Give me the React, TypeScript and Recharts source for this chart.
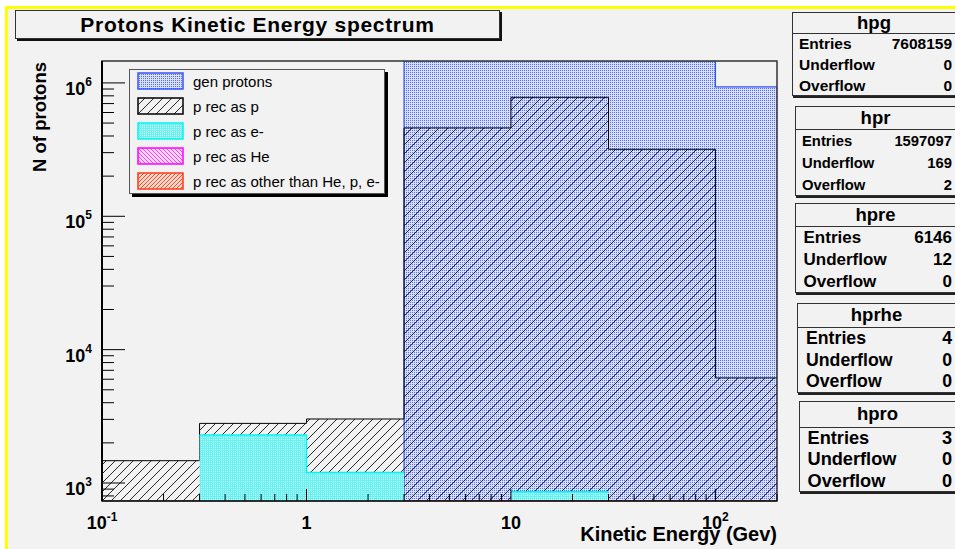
import React from "react";
import { ComposedChart, Area, XAxis, YAxis, ReferenceArea } from "recharts";

// histogram binning (GeV)
const binEdges = [0.1, 0.3, 1, 3, 10, 30, 100, 200];

// bin contents, null = bin not drawn
const genProtons = [0, 0, 0, 2100000, 2400000, 2200000, 933000];
const recAsP = [1470, 2800, 3020, 460000, 780000, 318000, 6140];
const recAsE = [null, 2290, 1200, null, 860, null, null];
const recAsHe = [null, null, null, 1, 2, 1, null];
const recAsOther = [null, null, null, 1, 1, 1, 0];

const seriesKeys = ["gen", "recP", "recE", "recHe", "recOther"];
const seriesNames = ["gen protons", "p rec as p", "p rec as e-", "p rec as He", "p rec as other than He, p, e-"];
const seriesValues = [genProtons, recAsP, recAsE, recAsHe, recAsOther];

// stat boxes
const statNames = ["hpg", "hpr", "hpre", "hprhe", "hpro"];
const statEntries = [7608159, 1597097, 6146, 4, 3];
const statUnderflow = [0, 169, 12, 0, 0];
const statOverflow = [0, 2, 0, 0, 0];

const yMajorTicks = [1e3, 1e4, 1e5, 1e6];
const xMajorTicks = [0.1, 1, 10, 100];
const minorSteps = [2, 3, 4, 5, 6, 7, 8, 9];

const Y_MIN = 733;
const Y_MAX = 1.46e6;
const X_MIN = 0.1;
const X_MAX = 200;

const PLOT_LEFT = 102;
const PLOT_BOTTOM = 501;
const FONT = "'Liberation Sans', Arial, Helvetica, sans-serif";

const seriesStyle = [
  { fill: "url(#fillGen)", stroke: "#3355ff", width: 1.2 },
  { fill: "url(#fillHatch)", stroke: "#000000", width: 1 },
  { fill: "url(#fillCyan)", stroke: "#00f4f4", width: 1.5 },
  { fill: "url(#fillMagenta)", stroke: "#ff00ff", width: 1 },
  { fill: "url(#fillRed)", stroke: "#ff3a1a", width: 1.5 },
];

const yTicks = [800, 900, ...yMajorTicks.slice(0, 3).flatMap((m) => [m, ...minorSteps.map((s) => s * m)]), 1e6];
const xTicks = [...xMajorTicks.slice(0, 3).flatMap((m) => [m, ...minorSteps.map((s) => s * m)]), 100, 200];

// like ROOT, contents outside the frame are drawn at its edge
const clampY = (v: number | null) => (v == null ? null : Math.min(Math.max(v, Y_MIN), Y_MAX));

const rows: any[] = [];
for (let i = 0; i < binEdges.length - 1; i++) {
  const lo: any = { x: binEdges[i] };
  const hi: any = { x: binEdges[i + 1] };
  seriesKeys.forEach((k, s) => {
    lo[k] = clampY(seriesValues[s][i]);
    hi[k] = clampY(seriesValues[s][i]);
  });
  rows.push(lo, hi);
}

const isMajor = (v: number) => Math.abs(Math.log10(v) - Math.round(Math.log10(v))) < 1e-6;

const XTick = (props: any) => {
  const { x, payload } = props;
  const v = payload.value;
  const major = isMajor(v);
  const e = Math.round(Math.log10(v));
  return (
    <g>
      <line x1={x} x2={x} y1={PLOT_BOTTOM} y2={PLOT_BOTTOM - (major ? 12 : 7)} stroke="#000" />
      {major && (
        <text x={x} y={PLOT_BOTTOM + 27.5} textAnchor="middle" fontSize={18} fontWeight="bold" fill="#000" fontFamily={FONT}>
          {e === 0 ? "1" : "10"}
          {e !== 0 && e !== 1 && (
            <tspan dy={-8} fontSize={12}>
              {e}
            </tspan>
          )}
        </text>
      )}
    </g>
  );
};

const YTick = (props: any) => {
  const { y, payload } = props;
  const v = payload.value;
  const major = isMajor(v);
  const e = Math.round(Math.log10(v));
  return (
    <g>
      <line x1={PLOT_LEFT} x2={PLOT_LEFT + (major ? 23 : 12)} y1={y} y2={y} stroke="#000" />
      {major && (
        <text x={PLOT_LEFT - 10} y={y + 12} textAnchor="end" fontSize={18} fontWeight="bold" fill="#000" fontFamily={FONT}>
          10
          <tspan dy={-9} fontSize={12}>
            {e}
          </tspan>
        </text>
      )}
    </g>
  );
};

const XTitle = (props: any) => {
  const vb = props.viewBox || { x: 102, y: 501, width: 675 };
  return (
    <text x={vb.x + vb.width} y={vb.y + 40} textAnchor="end" fontSize={20} fontWeight="bold" fill="#000" fontFamily={FONT}>
      Kinetic Energy (Gev)
    </text>
  );
};

const YTitle = (props: any) => {
  const vb = props.viewBox || { x: 42, y: 61 };
  const bx = vb.x + 4;
  const by = vb.y + 1;
  return (
    <text
      x={bx}
      y={by}
      transform={`rotate(-90 ${bx} ${by})`}
      textAnchor="end"
      fontSize={18.5}
      fontWeight="bold"
      fill="#000"
      fontFamily={FONT}
    >
      N of protons
    </text>
  );
};

const PatternDefs = () => (
  <svg width={0} height={0} style={{ position: "absolute" }}>
    <defs>
      <pattern id="fillGen" width={2} height={2} patternUnits="userSpaceOnUse">
        <rect width={2} height={2} fill="#d8defb" />
        <rect width={1} height={1} fill="#5270f2" />
      </pattern>
      <pattern id="fillHatch" width={9} height={9} patternUnits="userSpaceOnUse">
        <path d="M-1,1 L1,-1 M0,9 L9,0 M8,10 L10,8" stroke="#111" strokeWidth={0.9} />
      </pattern>
      <pattern id="fillCyan" width={2} height={2} patternUnits="userSpaceOnUse">
        <rect width={2} height={2} fill="#64f4f4" />
        <rect x={1} y={1} width={1} height={1} fill="#dcffff" />
      </pattern>
      <pattern id="fillMagenta" width={4} height={4} patternUnits="userSpaceOnUse">
        <rect width={4} height={4} fill="#ffd6ff" />
        <path d="M0,0 L4,4 M-1,3 L1,5 M3,-1 L5,1" stroke="#ff40ff" strokeWidth={1} />
      </pattern>
      <pattern id="fillRed" width={4} height={4} patternUnits="userSpaceOnUse">
        <rect width={4} height={4} fill="#ffd8cc" />
        <path d="M0,4 L4,0 M-1,1 L1,-1 M3,5 L5,3" stroke="#ff4a2a" strokeWidth={1} />
      </pattern>
    </defs>
  </svg>
);

const statLayout = [
  { left: 792, top: 12, titleH: 20, rowH: 20.7, font: 15.5, pad: 6 },
  { left: 795, top: 106, titleH: 22, rowH: 22, font: 14.8, pad: 6 },
  { left: 795, top: 203, titleH: 22, rowH: 22, font: 17, pad: 7.5 },
  { left: 797, top: 303, titleH: 22.5, rowH: 21.8, font: 17.7, pad: 8 },
  { left: 799, top: 401, titleH: 24.5, rowH: 21.5, font: 18.2, pad: 7.5 },
];

const StatBox = ({ i }: { i: number }) => {
  const l = statLayout[i];
  const rowsData: [string, number][] = [
    ["Entries", statEntries[i]],
    ["Underflow", statUnderflow[i]],
    ["Overflow", statOverflow[i]],
  ];
  return (
    <div
      style={{
        position: "absolute",
        left: l.left,
        top: l.top,
        width: 962 - l.left,
        height: l.titleH + 3 * l.rowH + 2,
        boxSizing: "border-box",
        border: "1px solid #333",
        boxShadow: "1px 2px 0 #222",
        background: "#f2f2f2",
        fontFamily: FONT,
        fontWeight: "bold",
        color: "#000",
      }}
    >
      <div
        style={{
          height: l.titleH,
          borderBottom: "1px solid #333",
          display: "flex",
          alignItems: "center",
          justifyContent: "center",
          fontSize: 18.5,
          paddingRight: 6,
        }}
      >
        {statNames[i]}
      </div>
      {rowsData.map(([label, val]) => (
        <div
          key={label}
          style={{
            height: l.rowH,
            display: "flex",
            alignItems: "center",
            justifyContent: "space-between",
            paddingLeft: l.pad,
            paddingRight: 9,
            fontSize: l.font,
          }}
        >
          <span>{label}</span>
          <span>{val}</span>
        </div>
      ))}
    </div>
  );
};

const LegendBox = () => (
  <div
    style={{
      position: "absolute",
      left: 129,
      top: 69,
      width: 256,
      height: 125,
      boxSizing: "border-box",
      border: "1px solid #555",
      boxShadow: "3px 3px 0 #000",
      background: "#f2f2f2",
      fontFamily: FONT,
      fontSize: 15,
      color: "#000",
    }}
  >
    {seriesNames.map((name, i) => (
      <div key={name} style={{ position: "absolute", left: 0, top: -1.5 + 25 * i, height: 25, width: 250 }}>
        <svg width={48} height={19} style={{ position: "absolute", left: 7, top: 3 }}>
          <rect x={1} y={1} width={45} height={16} fill={seriesStyle[i].fill} stroke={seriesStyle[i].stroke} strokeWidth={1.5} />
        </svg>
        <div style={{ position: "absolute", left: 63, top: 0, height: 25, lineHeight: "25px", whiteSpace: "nowrap" }}>{name}</div>
      </div>
    ))}
  </div>
);

export default function App() {
  return (
    <div style={{ position: "fixed", left: 0, top: 0, width: 955, height: 549, background: "#fff", overflow: "hidden" }}>
      <div
        style={{
          position: "absolute",
          left: 5,
          top: 6,
          width: 980,
          height: 580,
          borderLeft: "3px solid #ffff00",
          borderTop: "3px solid #ffff00",
          background: "#f2f2f2",
        }}
      />
      <PatternDefs />
      <div style={{ position: "absolute", left: 0, top: 0 }}>
        <ComposedChart width={955} height={549} data={rows} margin={{ top: 61, right: 178, bottom: 18, left: 42 }}>
          {seriesKeys.map((k, i) => (
            <Area
              key={k}
              dataKey={k}
              name={seriesNames[i]}
              type="linear"
              baseValue={Y_MIN}
              fill={seriesStyle[i].fill}
              fillOpacity={1}
              stroke={seriesStyle[i].stroke}
              strokeWidth={seriesStyle[i].width}
              dot={false}
              activeDot={false}
              connectNulls={false}
              isAnimationActive={false}
            />
          ))}
          <ReferenceArea x1={X_MIN} x2={X_MAX} y1={Y_MIN} y2={Y_MAX} fill="none" stroke="#333" strokeWidth={1.5} />
          <XAxis
            dataKey="x"
            type="number"
            scale="log"
            domain={[X_MIN, X_MAX]}
            allowDataOverflow
            ticks={xTicks}
            interval={0}
            tick={<XTick />}
            tickLine={false}
            axisLine={{ stroke: "#000" }}
            height={30}
            label={<XTitle />}
          />
          <YAxis
            type="number"
            scale="log"
            domain={[Y_MIN, Y_MAX]}
            allowDataOverflow
            ticks={yTicks}
            interval={0}
            tick={<YTick />}
            tickLine={false}
            axisLine={{ stroke: "#000", strokeWidth: 2 }}
            width={60}
            label={<YTitle />}
          />
        </ComposedChart>
      </div>
      <div
        style={{
          position: "absolute",
          left: 15,
          top: 10,
          width: 485,
          height: 29,
          boxSizing: "border-box",
          border: "1px solid #333",
          boxShadow: "2px 2px 0 #111",
          background: "#f2f2f2",
          display: "flex",
          alignItems: "center",
          justifyContent: "center",
          fontFamily: FONT,
          fontWeight: "bold",
          fontSize: 21,
          letterSpacing: 0.7,
          color: "#000",
        }}
      >
        Protons Kinetic Energy spectrum
      </div>
      <LegendBox />
      {statNames.map((n, i) => (
        <StatBox key={n} i={i} />
      ))}
    </div>
  );
}
